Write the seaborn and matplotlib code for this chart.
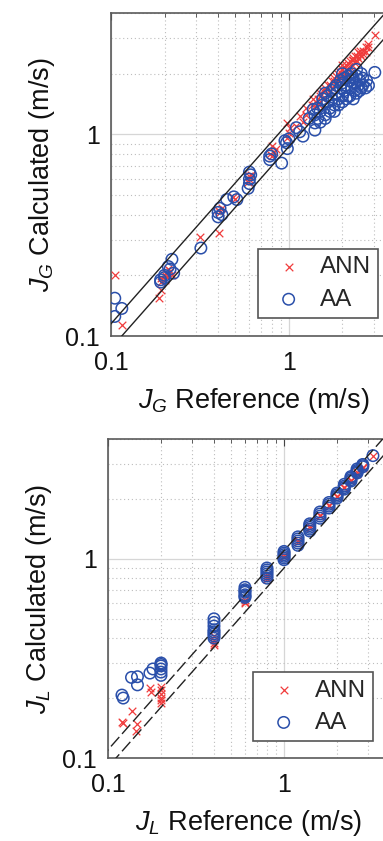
import numpy as np
import pandas as pd
import seaborn as sns
import matplotlib
matplotlib.use("Agg")
from matplotlib import pyplot as plt
from matplotlib.ticker import FixedLocator, FuncFormatter, NullFormatter

# ---- top panel: gas superficial velocity J_G ----
jg_ann_ref = [0.105, 0.116, 0.187, 0.19, 0.19, 0.20, 0.205, 0.21, 0.215, 0.22, 0.21, 0.19, 0.20,
              0.316, 0.404, 0.40, 0.41, 0.42, 0.485, 0.50, 0.60, 0.60, 0.61, 0.59,
              0.80, 0.78, 0.82, 0.80, 0.85, 0.97, 1.00, 1.02, 0.98, 1.15, 1.10, 1.20, 1.25,
              1.37, 1.40, 1.45, 1.50, 1.55, 1.60, 1.65, 1.70, 1.75, 1.80, 1.85, 1.90, 1.95,
              2.00, 2.00, 2.05, 2.10, 2.15, 2.20, 2.25, 2.30, 2.35, 2.40, 2.45, 2.50, 2.55,
              2.60, 2.70, 2.80, 3.04,
              1.50, 1.60, 1.70, 1.80, 1.90, 2.00, 2.10, 2.20, 2.30, 2.40, 2.50, 2.60, 2.70,
              2.80, 1.35, 1.45, 1.25, 1.55, 1.65, 1.75, 1.85, 1.95, 2.05, 2.15, 2.25, 2.35, 2.45]
jg_ann_calc = [0.20, 0.113, 0.155, 0.17, 0.185, 0.19, 0.205, 0.20, 0.21, 0.20, 0.215, 0.195, 0.20,
               0.31, 0.325, 0.42, 0.41, 0.43, 0.49, 0.48, 0.62, 0.60, 0.63, 0.58,
               0.875, 0.80, 0.82, 0.78, 0.85, 1.14, 1.02, 1.08, 0.96, 1.23, 1.10, 1.15, 1.25,
               1.49, 1.38, 1.42, 1.60, 1.50, 1.65, 1.58, 1.75, 1.70, 1.85, 1.80, 2.00, 1.90,
               2.10, 1.95, 2.05, 2.20, 2.10, 2.30, 2.20, 2.35, 2.25, 2.45, 2.40, 2.50, 2.45,
               2.60, 2.55, 2.70, 3.11,
               1.55, 1.70, 1.65, 1.90, 1.85, 2.20, 2.00, 2.15, 2.40, 2.30, 2.60, 2.50, 2.70,
               2.80, 1.40, 1.50, 1.35, 1.65, 1.75, 1.85, 1.95, 2.05, 2.15, 2.25, 2.35, 2.45, 2.55]
jg_aa_ref = [0.105, 0.115, 0.105, 0.19, 0.19, 0.20, 0.21, 0.22, 0.225, 0.215, 0.20,
             0.32, 0.40, 0.42, 0.41, 0.40, 0.447, 0.49, 0.51, 0.60, 0.59, 0.60, 0.61, 0.60,
             0.78, 0.80, 0.78, 0.91, 0.97, 0.98, 1.00, 0.95, 1.10, 1.20, 1.15,
             1.40, 1.37, 1.40, 1.45, 1.50, 1.55, 1.60, 1.65, 1.70, 1.75, 1.80, 1.85, 1.90,
             1.95, 2.00, 2.00, 2.05, 2.10, 2.15, 2.20, 2.25, 2.30, 2.35, 2.40, 2.45, 2.50,
             2.55, 2.60, 2.73, 3.04, 1.60, 1.80, 2.00, 2.40,
             1.40, 1.50, 1.60, 1.70, 1.80, 1.90, 2.00, 2.10, 2.20, 2.30, 2.40, 2.50, 2.60,
             2.70, 1.55, 1.75, 1.95, 2.15, 2.35, 2.55, 2.80, 1.30, 1.45, 1.65, 1.85, 2.05, 2.25]
jg_aa_calc = [0.154, 0.137, 0.125, 0.19, 0.185, 0.20, 0.221, 0.24, 0.205, 0.215, 0.195,
              0.273, 0.41, 0.40, 0.43, 0.39, 0.475, 0.49, 0.475, 0.60, 0.54, 0.57, 0.63, 0.65,
              0.75, 0.80, 0.78, 0.72, 0.91, 0.85, 0.95, 0.93, 1.08, 0.98, 1.03,
              1.14, 1.33, 1.25, 1.20, 1.30, 1.40, 1.25, 1.45, 1.35, 1.50, 1.40, 1.60, 1.50,
              1.70, 1.55, 1.80, 1.65, 1.75, 1.55, 1.85, 1.70, 1.90, 1.65, 1.95, 1.75, 1.85,
              1.70, 1.90, 1.85, 2.03, 1.60, 1.70, 2.00, 2.10,
              1.05, 1.15, 1.20, 1.30, 1.30, 1.40, 1.45, 1.50, 1.55, 1.50, 1.60, 1.65, 1.75,
              1.70, 1.50, 1.65, 1.85, 1.95, 1.80, 2.00, 1.75, 1.20, 1.35, 1.55, 1.75, 1.90, 2.00]

# ---- bottom panel: liquid superficial velocity J_L ----
jl_ann_ref = [0.12, 0.121, 0.137, 0.147, 0.145, 0.173, 0.176, 0.20, 0.20, 0.20, 0.20, 0.20, 0.20,
              0.40, 0.40, 0.40, 0.40, 0.60, 0.60, 0.60, 0.80, 0.80, 0.80,
              1.0, 1.0, 1.2, 1.2, 1.4, 1.4, 1.6, 1.6, 1.8, 1.8, 2.0, 2.0,
              2.2, 2.2, 2.4, 2.4, 2.6, 2.6, 2.8, 2.8, 3.2]
jl_ann_calc = [0.152, 0.15, 0.173, 0.149, 0.137, 0.224, 0.214, 0.228, 0.188, 0.21, 0.22, 0.20, 0.195,
               0.37, 0.38, 0.39, 0.41, 0.60, 0.61, 0.62, 0.79, 0.81, 0.83,
               1.02, 1.04, 1.22, 1.24, 1.43, 1.46, 1.64, 1.67, 1.84, 1.87, 2.05, 2.08,
               2.27, 2.30, 2.46, 2.50, 2.68, 2.72, 2.86, 2.90, 3.30]
jl_aa_ref = [0.12, 0.122, 0.136, 0.147, 0.147, 0.173, 0.18, 0.20, 0.20, 0.20, 0.20, 0.20, 0.20,
             0.40, 0.40, 0.40, 0.40, 0.40, 0.40, 0.40, 0.40,
             0.60, 0.60, 0.60, 0.60, 0.60, 0.60, 0.60,
             0.80, 0.80, 0.80, 0.80, 0.80, 0.80,
             1.0, 1.0, 1.0, 1.0, 1.0, 1.0,
             1.2, 1.2, 1.2, 1.2, 1.2, 1.4, 1.4, 1.4, 1.4, 1.4,
             1.6, 1.6, 1.6, 1.6, 1.8, 1.8, 1.8, 1.8, 2.0, 2.0, 2.0, 2.0,
             2.2, 2.2, 2.2, 2.2, 2.4, 2.4, 2.4, 2.4, 2.6, 2.6, 2.6, 2.6,
             2.8, 2.8, 2.8, 3.2]
jl_aa_calc = [0.207, 0.20, 0.254, 0.256, 0.233, 0.267, 0.28, 0.30, 0.29, 0.28, 0.27, 0.26, 0.295,
              0.40, 0.41, 0.42, 0.43, 0.44, 0.46, 0.48, 0.50,
              0.64, 0.65, 0.66, 0.68, 0.69, 0.70, 0.72,
              0.80, 0.82, 0.84, 0.86, 0.88, 0.90,
              0.99, 1.01, 1.03, 1.05, 1.07, 1.09,
              1.17, 1.20, 1.23, 1.26, 1.29, 1.38, 1.41, 1.44, 1.47, 1.50,
              1.60, 1.64, 1.68, 1.72, 1.80, 1.84, 1.88, 1.92, 2.02, 2.06, 2.10, 2.14,
              2.24, 2.28, 2.32, 2.37, 2.46, 2.50, 2.55, 2.59, 2.70, 2.74, 2.78, 2.83,
              2.90, 2.94, 2.98, 3.30]

ref_x = [0.09, 4.5]
jg_band = [1.15, 1 / 1.15]
jl_band = [1.1, 0.9]

red = "#f03c3c"
blue = "#2a4faa"

sns.set_style("white")
plt.rcParams["font.family"] = ["Liberation Sans", "DejaVu Sans"]
plt.rcParams["mathtext.fontset"] = "custom"
plt.rcParams["mathtext.rm"] = "Liberation Sans"
plt.rcParams["mathtext.it"] = "Liberation Sans:italic"

fig = plt.figure(figsize=(3.83, 8.41), dpi=100)
ax_top = fig.add_axes([111 / 383, 1 - 336 / 841, 285 / 383, 323 / 841])
ax_bot = fig.add_axes([108 / 383, 1 - 758 / 841, 282 / 383, 319 / 841])


def draw_panel(ax, ann_x, ann_y, aa_x, aa_y, band, ls, xlab, ylab, anchor):
    ann = pd.DataFrame({"ref": ann_x, "calc": ann_y})
    aa = pd.DataFrame({"ref": aa_x, "calc": aa_y})
    for f in band:
        sns.lineplot(x=ref_x, y=[v * f for v in ref_x], ax=ax, color="#222222",
                     lw=1.0, ls=ls, zorder=4)
    sns.scatterplot(data=ann, x="ref", y="calc", ax=ax, marker="x", color=red,
                    s=30, linewidth=0.9, label="ANN", zorder=3)
    sns.scatterplot(data=aa, x="ref", y="calc", ax=ax, marker="o", facecolor="none",
                    edgecolor=blue, s=68, linewidth=1.1, label="AA", zorder=3)
    ax.set_xscale("log")
    ax.set_yscale("log")
    ax.set_xlim(0.1, 4)
    ax.set_ylim(0.1, 4)
    ax.xaxis.set_major_locator(FixedLocator([0.1, 1]))
    ax.yaxis.set_major_locator(FixedLocator([0.1, 1]))
    minors = [m * d for d in (0.1, 1) for m in range(2, 10)]
    ax.xaxis.set_minor_locator(FixedLocator(minors))
    ax.yaxis.set_minor_locator(FixedLocator(minors))
    fmt = FuncFormatter(lambda v, p: "{:g}".format(v))
    ax.xaxis.set_major_formatter(fmt)
    ax.yaxis.set_major_formatter(fmt)
    ax.xaxis.set_minor_formatter(NullFormatter())
    ax.yaxis.set_minor_formatter(NullFormatter())
    ax.grid(which="major", color="#d6d6d6", lw=0.9, ls="-")
    ax.grid(which="minor", color="#bdbdbd", lw=0.8, ls=(0, (1, 2.5)))
    ax.set_axisbelow(True)
    ax.tick_params(which="both", direction="in", top=True, right=True,
                   color="#444444", labelsize=18, labelcolor="#111111")
    ax.tick_params(which="major", length=5)
    ax.tick_params(which="minor", length=3)
    ax.tick_params(axis="x", pad=11)
    ax.tick_params(axis="y", pad=8)
    for sp in ax.spines.values():
        sp.set_color("#5a5a5a")
        sp.set_linewidth(1.2)
    ax.set_xlabel(xlab, fontsize=19.5, color="#111111", labelpad=8)
    ax.set_ylabel(ylab, fontsize=19.5, color="#111111", labelpad=6)
    leg = ax.legend(loc="lower right", bbox_to_anchor=anchor, fontsize=17.5,
                    frameon=True, fancybox=False, framealpha=1, edgecolor="#555555",
                    handletextpad=0.3, borderpad=0.3, labelspacing=0.42,
                    handlelength=1.95, borderaxespad=0)
    leg.get_frame().set_linewidth(1.2)


draw_panel(ax_top, jg_ann_ref, jg_ann_calc, jg_aa_ref, jg_aa_calc, jg_band, "-",
           "$J_G$ Reference (m/s)", "$J_G$ Calculated (m/s)", (0.937, 0.056))
draw_panel(ax_bot, jl_ann_ref, jl_ann_calc, jl_aa_ref, jl_aa_calc, jl_band, (0, (9, 3)),
           "$J_L$ Reference (m/s)", "$J_L$ Calculated (m/s)", (0.94, 0.053))

fig.savefig("out.png", dpi=100)
